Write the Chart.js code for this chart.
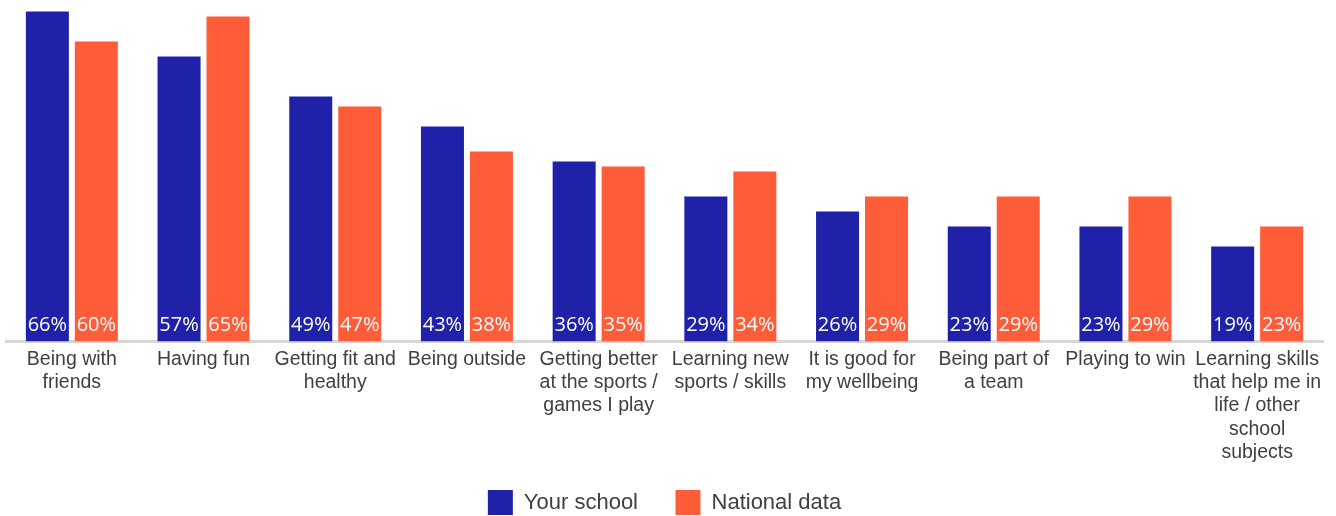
<!DOCTYPE html>
<html>
<head>
<meta charset="utf-8">
<title>Why pupils take part in sport</title>
<script src="https://cdn.jsdelivr.net/npm/chart.js@4.4.1/dist/chart.umd.min.js"></script>
<style>
  html, body { margin: 0; padding: 0; background: #ffffff; }
  #wrap { position: relative; width: 1336px; height: 516px; }
</style>
</head>
<body>
<div id="wrap"><canvas id="chart"></canvas></div>
<script>
// Reasons for taking part, share of pupils (%)
const categories = [
  ['Being with', 'friends'],
  'Having fun',
  ['Getting fit and', 'healthy'],
  'Being outside',
  ['Getting better', 'at the sports /', 'games I play'],
  ['Learning new', 'sports / skills'],
  ['It is good for', 'my wellbeing'],
  ['Being part of', 'a team'],
  'Playing to win',
  ['Learning skills', 'that help me in', 'life / other', 'school', 'subjects']
];
const yourSchool = [66, 57, 49, 43, 36, 29, 26, 23, 23, 19];
const nationalData = [60, 65, 47, 38, 35, 34, 29, 29, 29, 23];
const seriesNames = ['Your school', 'National data'];

const BLUE = '#1f21a9';
const ORANGE = '#ff5c39';
const TEXT = '#404040';

const TICK_FONT_SIZE = 19.5;
const TICK_LINE_HEIGHT = 1.2;
const LEGEND_PAD = 37.5;
const X_AXIS_HEIGHT = 490 - LEGEND_PAD - 341.5;

// White value labels sitting at the foot of each bar
const barValueLabels = {
  id: 'barValueLabels',
  afterDatasetsDraw(chart) {
    const ctx = chart.ctx;
    ctx.save();
    ctx.fillStyle = '#ffffff';
    ctx.font = '20px "Open Sans"';
    ctx.textAlign = 'center';
    ctx.textBaseline = 'alphabetic';
    chart.data.datasets.forEach((ds, di) => {
      const meta = chart.getDatasetMeta(di);
      meta.data.forEach((bar, i) => {
        ctx.fillText(ds.data[i] + '%', bar.x, bar.base - 10.5);
      });
    });
    ctx.restore();
  }
};

new Chart(document.getElementById('chart'), {
  type: 'bar',
  data: {
    labels: categories,
    datasets: [
      { label: seriesNames[0], data: yourSchool, backgroundColor: BLUE, borderWidth: 0 },
      { label: seriesNames[1], data: nationalData, backgroundColor: ORANGE, borderWidth: 0 }
    ]
  },
  options: {
    responsive: true,
    maintainAspectRatio: false,
    animation: false,
    layout: { padding: { left: 6, right: 13, top: 1.5, bottom: -9 } },
    datasets: {
      bar: { categoryPercentage: 0.744, barPercentage: 0.878 }
    },
    scales: {
      x: {
        grid: { display: false, drawTicks: false },
        border: { display: true, color: '#d6d6d6', width: 3 },
        ticks: {
          autoSkip: false,
          maxRotation: 0,
          minRotation: 0,
          // mirrored ticks are not clipped to the axis box, so the
          // five-line label can run down towards the legend
          mirror: true,
          padding: -(6 + TICK_FONT_SIZE * TICK_LINE_HEIGHT),
          color: TEXT,
          font: { family: '"Liberation Sans", Arial, sans-serif', size: TICK_FONT_SIZE, lineHeight: TICK_LINE_HEIGHT }
        },
        afterFit(scale) { scale.height = X_AXIS_HEIGHT; }
      },
      y: {
        display: false,
        min: 0,
        max: 68
      }
    },
    plugins: {
      legend: {
        position: 'bottom',
        labels: {
          boxWidth: 25,
          boxHeight: 25,
          padding: LEGEND_PAD,
          color: TEXT,
          font: { family: '"Liberation Sans", Arial, sans-serif', size: 22 }
        }
      },
      tooltip: { enabled: false }
    }
  },
  plugins: [barValueLabels]
});
</script>
</body>
</html>
